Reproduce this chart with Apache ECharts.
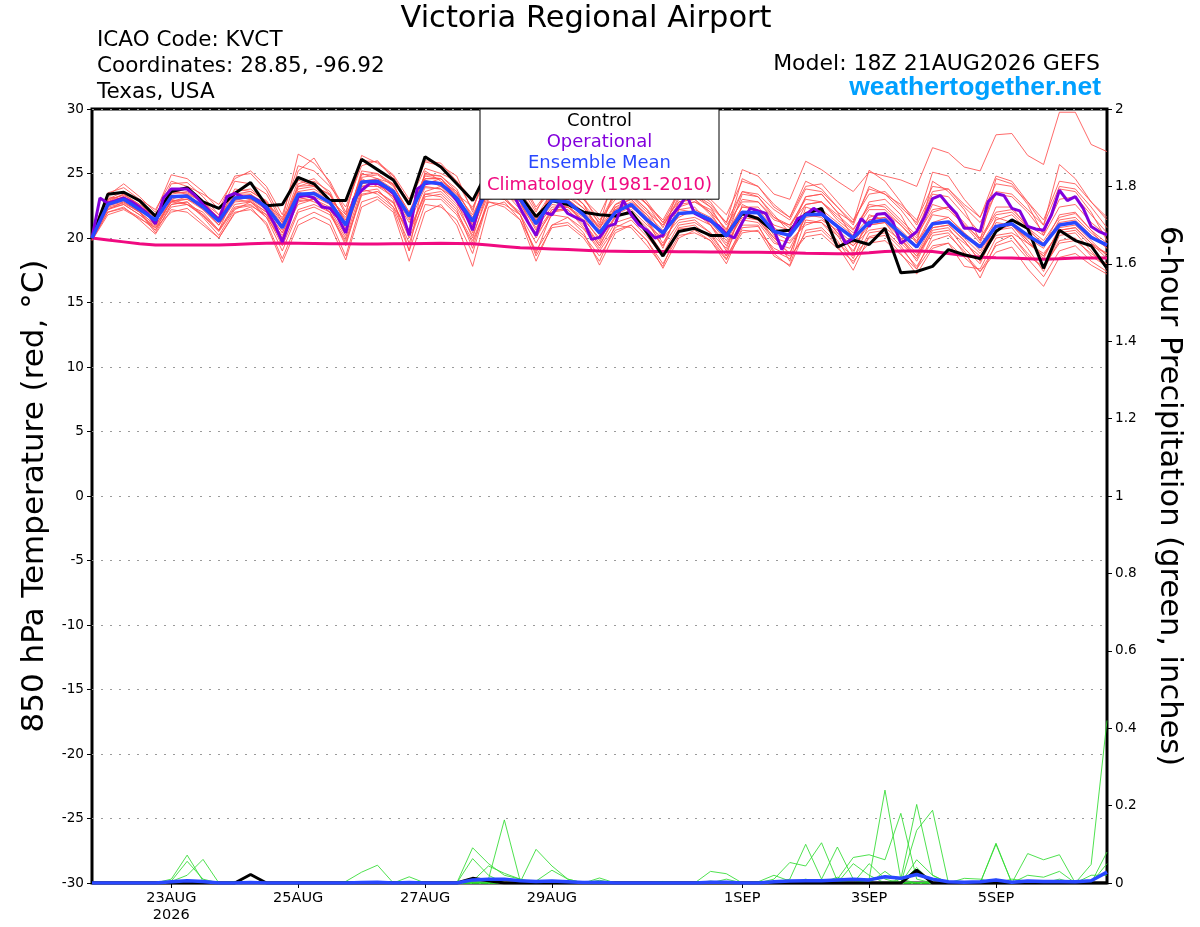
<!DOCTYPE html>
<html>
<head>
<meta charset="utf-8">
<script src="https://cdn.jsdelivr.net/npm/echarts@6/dist/echarts.min.js"></script>
<style>html,body{margin:0;padding:0;background:#fff}#chart{width:1200px;height:927px}</style>
</head>
<body>
<div id="chart"></div>
<script>
// ---------- data ----------
const stepHours = 6;      // ensemble / control / mean output step
const opStepHours = 3;    // operational output step
const xTickHours = [30, 78, 126, 174, 246, 294, 342];
const xTickLabels = ['23AUG\n2026', '25AUG', '27AUG', '29AUG', '1SEP', '3SEP', '5SEP'];
const tempTicks = [-30, 30, 5];
const precipTicks = [0, 2, 0.2];

const controlTemp = [20.0, 23.4, 23.55, 22.9, 21.7, 23.6, 23.9, 22.8, 22.3, 23.45,
  24.3, 22.5, 22.6, 24.7, 24.2, 22.9, 22.9, 26.1, 25.3, 24.5,
  22.6, 26.3, 25.5, 24.2, 22.9, 25.3, 24.8, 23.3, 21.65, 22.9,
  22.6, 22.0, 21.8, 21.7, 22.0, 20.4, 18.6, 20.5, 20.75, 20.2,
  20.2, 21.9, 21.5, 20.5, 20.6, 21.85, 22.3, 19.3, 19.85, 19.5,
  20.75, 17.3, 17.4, 17.8, 19.1, 18.7, 18.4, 20.5, 21.4, 20.75,
  17.65, 20.6, 19.8, 19.4, 17.65];

const meanTemp = [20.0, 22.6, 23.0, 22.2, 21.4, 23.2, 23.25, 22.4, 21.3, 23.1,
  23.2, 22.4, 20.8, 23.4, 23.45, 22.75, 21.0, 24.35, 24.4, 23.6,
  21.7, 24.35, 24.2, 23.1, 21.3, 24.0, 23.8, 23.0, 21.1, 22.9,
  22.8, 21.8, 20.4, 22.0, 22.6, 21.4, 20.4, 21.9, 22.0, 21.4,
  20.15, 22.0, 21.95, 20.5, 20.2, 21.8, 21.85, 20.9, 20.0, 21.2,
  21.4, 20.35, 19.3, 21.1, 21.25, 20.2, 19.3, 20.9, 21.1, 20.2,
  19.45, 21.0, 21.2, 20.05, 19.45];

const climTemp = [20.0, 19.85, 19.7, 19.55, 19.45, 19.45, 19.45, 19.45, 19.45, 19.5,
  19.55, 19.6, 19.62, 19.6, 19.58, 19.56, 19.55, 19.54, 19.54, 19.55,
  19.56, 19.58, 19.6, 19.58, 19.55, 19.45, 19.35, 19.25, 19.2, 19.15,
  19.1, 19.05, 19.0, 18.98, 18.96, 18.95, 18.95, 18.94, 18.93, 18.92,
  18.91, 18.9, 18.9, 18.88, 18.85, 18.82, 18.8, 18.78, 18.78, 18.85,
  18.95, 19.0, 19.0, 18.95, 18.8, 18.65, 18.5, 18.47, 18.45, 18.4,
  18.35, 18.4, 18.45, 18.45, 18.45];

const opTemp = [20.0, 23.1, 22.7, 22.9, 23.1, 22.8, 22.4, 21.9, 21.1, 23.1,
  23.8, 23.8, 23.8, 23.3, 22.6, 22.0, 21.4, 23.2, 23.45, 23.2,
  23.2, 22.9, 22.2, 21.1, 19.7, 21.4, 23.2, 23.3, 23.1, 22.4,
  22.3, 21.6, 20.4, 23.0, 23.7, 24.2, 24.25, 23.95, 23.45, 22.2,
  20.2, 23.8, 24.2, 24.3, 24.2, 23.7, 22.9, 22.0, 20.6, 22.9,
  23.6, 24.1, 24.0, 23.6, 22.3, 21.2, 20.2, 22.0, 21.8, 22.7,
  21.9, 21.6, 21.3, 19.9, 20.05, 20.9, 21.1, 22.9, 21.8, 21.0,
  20.6, 20.0, 20.2, 21.65, 22.4, 23.3, 21.9, 21.6, 21.3, 20.95,
  20.3, 20.0, 21.2, 22.3, 22.1, 21.9, 20.6, 19.1, 20.35, 21.5,
  21.8, 22.3, 21.9, 21.4, 20.9, 19.6, 20.0, 21.5, 20.9, 21.85,
  21.9, 21.25, 19.6, 20.0, 20.5, 21.65, 23.05, 23.3, 22.55, 21.9,
  20.75, 20.75, 20.5, 22.8, 23.45, 23.3, 22.3, 22.1, 20.9, 20.7,
  20.6, 21.8, 23.7, 22.9, 23.2, 22.3, 20.9, 20.5, 20.25];

// ensemble members, 850 hPa temperature (6-hourly)
const member1 = [20.1, 22.9, 23.4, 22.6, 21.6, 23.6, 23.5, 22.8, 21.5, 23.4, 23.6, 22.9, 21.2, 24.0, 24.1, 23.3, 21.4,
  24.9, 25.0, 24.1, 22.0, 24.9, 24.8, 23.6, 21.6, 24.6, 24.3, 23.5, 21.4, 23.3, 23.4, 22.3, 20.8,
  22.6, 23.3, 22.2, 21.0, 23.0, 23.4, 22.6, 21.2, 25.3, 24.8, 23.4, 23.0, 25.95, 25.3, 24.4, 23.6,
  25.1, 24.8, 24.5, 24.0, 27.0, 26.6, 25.5, 25.2, 28.0, 28.1, 26.4, 25.7, 29.75, 29.75, 27.25, 26.7];
const member2 = [19.9, 22.0, 22.3, 21.6, 20.6, 22.4, 22.6, 21.7, 20.5, 22.3, 22.5, 21.8, 19.4, 22.2, 22.6, 22.0, 19.6,
  23.3, 23.6, 22.7, 20.3, 23.4, 23.2, 22.0, 19.8, 22.8, 22.6, 21.8, 19.6, 21.8, 21.6, 20.7, 19.0,
  20.8, 21.4, 20.1, 18.6, 20.7, 20.8, 20.2, 18.6, 20.6, 20.5, 19.2, 18.6, 20.1, 20.3, 19.2, 18.2,
  19.6, 19.8, 18.7, 17.6, 19.4, 19.6, 18.5, 17.4, 18.9, 19.3, 17.6, 16.25, 18.5, 18.8, 17.9, 17.2];
const member3 = [20.2, 23.3, 24.2, 23.2, 22.0, 24.9, 24.6, 23.6, 22.2, 24.8, 25.0, 23.7, 21.4, 26.5, 25.8, 24.4, 22.0,
  26.0, 25.9, 24.9, 23.0, 25.9, 25.6, 24.8, 22.0, 26.0, 25.2, 24.0, 22.0, 24.5, 24.6, 23.2, 21.0,
  25.2, 24.3, 22.8, 21.2, 22.8, 23.0, 22.0, 20.7, 23.6, 23.2, 21.6, 21.0, 23.0, 22.8, 21.8, 20.7,
  22.4, 22.6, 21.4, 20.2, 22.2, 22.4, 21.2, 19.8, 21.8, 22.0, 20.8, 19.8, 21.6, 21.9, 20.6, 19.6];
const member4 = [19.8, 21.8, 22.2, 21.5, 20.8, 22.0, 22.3, 21.2, 20.0, 21.9, 22.4, 21.0, 18.1, 21.0, 21.6, 21.0, 18.3,
  22.4, 23.0, 22.0, 18.2, 22.0, 22.6, 21.0, 17.8, 22.4, 22.8, 21.4, 18.2, 21.0, 21.6, 20.4, 17.9,
  20.4, 21.0, 19.8, 17.65, 20.0, 20.6, 19.8, 18.0, 20.8, 20.9, 19.0, 18.4, 20.4, 20.6, 19.4, 17.5,
  20.1, 20.4, 19.2, 17.8, 19.8, 20.2, 19.0, 16.9, 19.6, 20.2, 18.8, 17.6, 19.8, 20.0, 18.6, 17.8];
const member5 = [20.0, 22.8, 23.4, 22.5, 21.2, 23.5, 23.8, 22.6, 21.6, 23.6, 23.8, 22.8, 21.0, 23.8, 24.0, 23.0, 21.6,
  24.7, 24.9, 24.0, 22.0, 24.6, 24.6, 23.4, 21.8, 24.3, 24.2, 23.3, 21.6, 23.6, 23.2, 22.3, 20.9,
  23.4, 23.2, 22.0, 21.0, 22.6, 22.8, 22.2, 20.6, 23.0, 22.8, 21.4, 21.0, 22.6, 22.8, 21.6, 20.6,
  22.6, 22.4, 21.2, 20.0, 22.6, 22.2, 21.0, 20.0, 22.0, 22.2, 21.0, 20.2, 22.4, 22.6, 21.2, 20.2];
const member6 = [20.0, 22.4, 22.7, 22.0, 21.0, 22.9, 23.0, 22.2, 21.0, 22.8, 22.9, 22.0, 20.4, 22.9, 23.0, 22.4, 20.6,
  24.0, 24.0, 23.2, 21.2, 23.9, 23.8, 22.6, 20.8, 23.6, 23.4, 22.6, 20.8, 22.4, 22.4, 21.4, 20.0,
  21.6, 22.2, 21.0, 20.0, 21.4, 21.6, 21.0, 19.6, 21.6, 21.4, 20.0, 19.6, 21.2, 21.2, 20.2, 19.4,
  20.6, 20.8, 19.8, 18.6, 20.4, 20.6, 19.6, 18.6, 20.2, 20.4, 19.6, 18.8, 20.4, 20.6, 19.4, 18.8];
const member7 = [20.1, 22.5, 23.0, 22.4, 21.8, 23.2, 23.1, 22.6, 21.4, 23.2, 23.0, 22.4, 21.0, 24.5, 24.0, 23.4, 21.2,
  24.2, 24.4, 23.4, 21.4, 24.5, 24.0, 23.2, 21.4, 23.5, 23.6, 22.8, 20.6, 24.0, 23.8, 22.6, 20.6,
  23.8, 23.4, 22.2, 20.2, 24.0, 23.4, 22.4, 20.4, 24.6, 24.0, 22.6, 21.6, 24.4, 23.8, 22.4, 21.0,
  24.0, 23.4, 22.2, 20.6, 23.4, 23.2, 21.8, 20.4, 23.6, 23.4, 22.2, 21.0, 25.7, 24.6, 22.8, 21.4];
const member8 = [19.9, 22.2, 22.6, 21.8, 20.8, 22.6, 22.8, 21.8, 20.6, 22.4, 22.6, 21.6, 19.0, 22.0, 22.4, 21.8, 19.8,
  23.4, 23.6, 22.8, 20.0, 23.0, 23.0, 21.8, 19.6, 22.8, 22.4, 21.4, 19.0, 21.0, 21.2, 20.2, 18.6,
  20.6, 21.0, 19.8, 18.0, 20.2, 20.4, 19.8, 18.3, 21.0, 21.0, 18.8, 17.8, 20.6, 20.8, 19.6, 18.6,
  20.0, 20.2, 18.8, 17.2, 19.2, 19.6, 17.8, 17.6, 20.0, 20.2, 18.6, 17.8, 19.6, 19.8, 18.8, 18.0];
const member9 = [20.0, 23.0, 23.6, 22.8, 21.6, 24.2, 24.3, 23.2, 21.8, 24.4, 24.2, 23.4, 21.2, 25.2, 26.2, 24.2, 21.8,
  26.4, 25.8, 24.8, 22.6, 26.0, 25.8, 24.4, 22.2, 25.8, 25.4, 24.4, 22.2, 23.8, 24.4, 23.0, 21.4,
  23.0, 23.8, 22.6, 20.8, 23.2, 23.6, 22.8, 21.0, 22.8, 22.8, 21.6, 20.8, 23.2, 23.4, 22.0, 21.2,
  25.25, 24.4, 22.8, 21.0, 23.6, 23.8, 22.4, 21.2, 23.4, 23.2, 22.0, 20.4, 23.0, 23.2, 21.8, 20.4];
const member10 = [20.2, 22.6, 22.9, 22.2, 21.3, 22.8, 23.0, 22.4, 21.2, 22.9, 23.2, 22.2, 20.4, 23.0, 23.2, 22.6, 20.4,
  24.6, 24.0, 23.6, 21.8, 24.0, 23.8, 23.0, 21.0, 24.0, 23.6, 22.8, 21.0, 22.6, 22.4, 21.6, 19.8,
  22.4, 22.4, 21.4, 19.6, 21.8, 22.0, 21.2, 19.8, 21.8, 21.6, 20.4, 19.8, 21.0, 21.4, 20.6, 19.6,
  21.4, 21.6, 20.6, 19.4, 21.8, 21.6, 20.4, 19.0, 20.8, 21.0, 20.0, 19.2, 21.4, 21.6, 20.4, 19.4];
const member11 = [19.9, 23.2, 23.0, 22.0, 20.6, 23.0, 22.6, 22.0, 20.6, 23.4, 23.0, 22.2, 20.0, 23.6, 23.0, 22.2, 20.8,
  24.0, 24.4, 23.0, 19.0, 25.2, 24.4, 23.6, 20.4, 24.4, 24.0, 22.8, 20.0, 22.2, 22.6, 21.2, 19.4,
  21.8, 22.4, 21.4, 19.2, 22.2, 22.4, 21.0, 19.0, 21.4, 21.2, 19.6, 19.2, 21.6, 21.8, 20.4, 19.4,
  21.0, 21.2, 20.0, 18.6, 20.8, 21.0, 19.8, 18.2, 21.2, 21.0, 19.6, 18.6, 20.6, 20.8, 19.6, 18.4];
const member12 = [20.0, 22.6, 23.2, 22.4, 21.6, 23.0, 23.4, 22.8, 21.8, 23.0, 23.4, 22.6, 21.6, 23.2, 23.6, 23.0, 21.8,
  24.2, 24.6, 24.2, 22.8, 24.2, 24.6, 23.4, 22.4, 24.8, 24.4, 23.6, 21.8, 22.8, 23.0, 22.0, 20.8,
  22.2, 22.8, 21.8, 20.6, 21.6, 22.2, 21.6, 20.4, 22.4, 22.4, 21.0, 20.6, 22.0, 22.2, 21.2, 20.2,
  21.6, 22.0, 21.0, 19.8, 21.2, 21.6, 20.4, 19.4, 21.4, 21.8, 20.6, 19.6, 21.2, 21.4, 20.2, 19.2];
const member13 = [20.0, 22.2, 22.8, 22.0, 20.4, 22.6, 22.8, 21.6, 20.2, 22.2, 22.8, 21.8, 20.2, 22.6, 23.0, 22.0, 19.4,
  23.6, 23.8, 22.4, 19.6, 23.2, 23.4, 22.2, 19.2, 23.2, 23.0, 21.8, 18.8, 22.0, 22.2, 20.8, 19.2,
  21.2, 21.6, 20.6, 18.8, 21.0, 21.2, 20.4, 18.6, 22.6, 22.0, 20.2, 18.2, 22.4, 22.0, 20.8, 18.8,
  21.8, 21.4, 20.0, 18.2, 20.6, 20.8, 19.2, 18.0, 20.6, 20.8, 19.2, 17.4, 20.2, 20.4, 19.0, 17.6];
const member14 = [20.1, 23.0, 23.3, 22.6, 21.8, 23.4, 23.6, 22.8, 21.4, 23.8, 23.6, 22.8, 20.8, 24.0, 24.4, 23.6, 21.0,
  25.2, 25.0, 24.2, 21.6, 25.0, 24.8, 23.8, 21.4, 25.0, 24.6, 23.4, 21.2, 23.2, 23.6, 22.6, 20.2,
  22.4, 23.0, 21.8, 20.0, 22.4, 22.8, 22.0, 20.0, 23.4, 23.2, 21.8, 20.4, 23.2, 23.4, 22.0, 20.0,
  22.8, 23.0, 21.8, 19.6, 24.4, 23.6, 22.2, 19.8, 24.6, 24.2, 22.6, 20.2, 23.8, 23.6, 22.0, 19.8];
const member15 = [20.3, 23.5, 23.9, 23.0, 22.2, 24.4, 24.0, 23.4, 22.6, 24.6, 25.2, 24.0, 21.8, 25.6, 25.2, 24.0, 22.4,
  25.6, 26.0, 24.6, 22.8, 25.4, 25.0, 24.4, 23.0, 25.4, 25.6, 24.6, 22.4, 24.0, 24.2, 23.0, 21.8,
  24.4, 24.0, 22.6, 21.4, 23.6, 23.8, 23.0, 21.8, 24.4, 24.0, 22.4, 21.6, 24.0, 24.2, 22.8, 21.4,
  23.4, 23.6, 22.4, 21.2, 25.1, 24.8, 23.0, 21.6, 24.8, 24.4, 22.8, 21.0, 24.0, 23.8, 22.4, 20.8];
const member16 = [19.8, 22.0, 22.4, 21.4, 20.3, 22.2, 22.0, 21.0, 20.0, 22.0, 22.2, 21.2, 18.4, 21.4, 22.0, 21.4, 18.6,
  22.8, 23.2, 22.2, 19.0, 22.6, 22.4, 21.4, 18.8, 23.0, 23.2, 21.8, 18.6, 20.8, 21.0, 20.0, 18.2,
  21.0, 20.8, 19.4, 17.8, 20.8, 21.0, 20.0, 18.4, 20.4, 20.6, 18.6, 17.9, 21.4, 21.2, 19.8, 18.0,
  20.4, 20.6, 19.4, 17.6, 20.2, 20.4, 18.8, 17.4, 19.4, 19.8, 18.4, 17.0, 19.0, 19.4, 18.2, 17.4];
const member17 = [20.0, 22.7, 23.0, 22.3, 21.2, 23.6, 23.4, 22.4, 21.0, 23.4, 23.4, 22.4, 20.6, 24.2, 24.6, 23.4, 21.2,
  25.0, 24.6, 23.8, 21.6, 24.8, 24.6, 23.2, 21.0, 24.2, 23.8, 23.0, 21.2, 23.2, 23.0, 22.0, 20.4,
  22.6, 23.0, 21.6, 20.2, 22.8, 23.0, 21.8, 20.2, 22.4, 22.2, 20.8, 20.0, 22.6, 22.8, 21.4, 20.4,
  22.2, 22.2, 21.0, 19.6, 22.0, 22.4, 21.0, 19.6, 22.4, 22.4, 20.8, 19.4, 21.8, 22.0, 20.6, 19.2];
const member18 = [20.0, 22.3, 22.6, 21.8, 20.9, 22.8, 22.6, 21.8, 20.6, 22.6, 22.8, 21.6, 19.8, 22.8, 23.0, 22.0, 20.0,
  23.8, 23.4, 22.4, 20.6, 23.4, 23.6, 22.4, 20.2, 23.4, 23.0, 22.0, 20.4, 22.2, 22.2, 21.0, 19.4,
  21.6, 22.0, 20.8, 19.4, 21.2, 21.4, 20.4, 19.2, 22.0, 21.6, 20.0, 18.8, 21.8, 21.6, 20.2, 18.4,
  21.0, 21.2, 19.6, 18.4, 20.8, 21.0, 19.8, 18.2, 21.6, 21.2, 19.8, 18.4, 20.8, 21.0, 19.8, 18.6];
const member19 = [20.1, 22.8, 23.2, 22.4, 21.2, 23.2, 23.2, 22.6, 21.2, 23.2, 23.0, 22.6, 20.8, 23.6, 23.8, 23.0, 21.0,
  24.4, 24.6, 23.6, 21.6, 24.6, 24.6, 23.2, 21.2, 24.0, 24.0, 23.0, 21.4, 23.4, 23.8, 22.6, 21.2,
  23.6, 23.6, 22.6, 21.2, 23.4, 23.2, 22.4, 21.2, 23.6, 23.4, 22.2, 21.4, 23.8, 23.6, 22.4, 21.2,
  23.8, 23.4, 22.6, 21.4, 24.0, 23.8, 22.6, 21.6, 24.2, 24.0, 22.8, 21.4, 24.4, 24.2, 22.8, 21.6];
const member20 = [19.9, 22.5, 22.8, 22.0, 21.0, 22.8, 23.2, 22.2, 21.0, 23.0, 22.8, 22.0, 19.6, 23.2, 22.8, 22.2, 20.2,
  24.4, 24.2, 23.2, 20.4, 23.6, 24.0, 22.8, 20.0, 23.8, 23.6, 22.2, 20.2, 22.0, 22.4, 21.2, 19.6,
  22.2, 22.6, 21.2, 19.4, 22.2, 22.0, 21.0, 19.4, 21.8, 21.4, 19.8, 18.8, 21.8, 21.8, 20.4, 19.0,
  21.4, 21.6, 20.2, 18.8, 21.0, 21.2, 20.0, 18.8, 20.6, 21.0, 19.8, 18.6, 20.6, 20.8, 19.6, 18.8];

// 6-hour precipitation (inches), control and ensemble mean (6-hourly)
const controlPrecip = [0, 0, 0, 0, 0, 0, 0, 0, 0, 0, 0.022, 0, 0, 0, 0, 0, 0, 0, 0, 0, 0, 0, 0, 0, 0.012,
  0.006, 0, 0, 0, 0, 0, 0, 0, 0, 0, 0, 0, 0, 0, 0, 0, 0, 0, 0, 0, 0, 0, 0, 0, 0,
  0, 0, 0.033, 0, 0, 0, 0, 0, 0, 0, 0, 0, 0, 0, 0];
const meanPrecip = [0, 0, 0, 0, 0, 0.003, 0.006, 0.004, 0, 0, 0.001, 0, 0, 0, 0, 0, 0, 0.001, 0.002, 0,
  0.001, 0, 0, 0, 0.008, 0.01, 0.01, 0.006, 0.004, 0.005, 0.003, 0.001, 0.002, 0, 0, 0, 0, 0, 0, 0.002,
  0.002, 0, 0, 0.003, 0.005, 0.006, 0.006, 0.008, 0.01, 0.008, 0.016, 0.012, 0.022, 0.01, 0.003,
  0.002, 0.003, 0.008, 0.002, 0.005, 0.004, 0.004, 0.003, 0.006, 0.028];
// ensemble member precipitation: [step index, inches]; all other steps are 0
const precip1 = [[5, 0.01], [6, 0.072], [7, 0.005]];
const precip2 = [[5, 0.005], [6, 0.056], [7, 0.01], [24, 0.005], [25, 0.044], [26, 0.025], [27, 0.01]];
const precip3 = [[5, 0.004], [6, 0.02], [7, 0.061], [39, 0.03], [40, 0.024]];
const precip4 = [[16, 0.004], [17, 0.028], [18, 0.046], [43, 0.01], [44, 0.053], [45, 0.044], [46, 0.104], [47, 0.005]];
const precip5 = [[20, 0.016], [24, 0.091], [25, 0.05], [26, 0.02], [27, 0.01], [44, 0.01], [45, 0.1], [46, 0.01], [47, 0.093], [48, 0.01]];
const precip6 = [[24, 0.063], [25, 0.02], [47, 0.01], [48, 0.066], [49, 0.073], [50, 0.06], [51, 0.18], [52, 0.01]];
const precip7 = [[25, 0.01], [26, 0.163], [27, 0.005], [49, 0.01], [50, 0.24], [51, 0.01], [57, 0.103]];
const precip8 = [[27, 0.002], [28, 0.087], [29, 0.044], [30, 0.01], [51, 0.01], [52, 0.203], [53, 0.02], [59, 0.076], [60, 0.06], [61, 0.073]];
const precip9 = [[28, 0.005], [29, 0.033], [30, 0.01], [32, 0.013], [52, 0.136], [53, 0.188], [57, 0.1], [63, 0.048], [64, 0.42]];
const precip10 = [[32, 0.007], [39, 0.005], [48, 0.05], [49, 0.02], [52, 0.06], [53, 0.02], [59, 0.02], [60, 0.015], [61, 0.03], [64, 0.08]];
const precip11 = [[36, 0.004], [42, 0.003], [43, 0.02], [44, 0.005], [50, 0.03], [52, 0.04], [55, 0.012], [56, 0.01], [58, 0.01], [59, 0.005], [64, 0.05]];
const precip12 = [[9, 0.004], [22, 0.003], [31, 0.004], [40, 0.01], [45, 0.01], [47, 0.015], [49, 0.05], [50, 0.01], [57, 0.01], [61, 0.01], [63, 0.02], [64, 0.02]];

// ---------- build ----------
const FONT = '"DejaVu Sans", Verdana, sans-serif';
const RED = '#ff4f4f', GREEN = '#2fdc2f', OP = '#8200dc', MEAN = '#2847ff', CLIM = '#f00a80';
const tempMembers = [member1, member2, member3, member4, member5, member6, member7, member8, member9, member10,
  member11, member12, member13, member14, member15, member16, member17, member18, member19, member20];
const precipMembers = [precip1, precip2, precip3, precip4, precip5, precip6, precip7, precip8, precip9, precip10, precip11, precip12];
const nSteps = controlTemp.length;

const at6 = arr => arr.map((v, i) => [i * stepHours, v]);
const at3 = arr => arr.map((v, i) => [i * opStepHours, v]);
const fromPairs = pairs => {
  const vals = controlTemp.map(() => 0);
  pairs.forEach(([i, v]) => { vals[i] = v; });
  return at6(vals);
};
const labelOf = v => { const k = xTickHours.indexOf(v); return k >= 0 ? xTickLabels[k] : ''; };

const series = [];
tempMembers.forEach((m, k) => series.push({
  name: 'member' + (k + 1), type: 'line', data: at6(m), yAxisIndex: 0,
  showSymbol: false, silent: true, lineStyle: { color: RED, width: 0.85 }, z: 2
}));
precipMembers.forEach((m, k) => series.push({
  name: 'precip member' + (k + 1), type: 'line', data: fromPairs(m), yAxisIndex: 1,
  showSymbol: false, silent: true, lineStyle: { color: GREEN, width: 0.85 }, z: 2
}));
series.push({ name: 'Climatology (1981-2010)', type: 'line', data: at6(climTemp), yAxisIndex: 0, showSymbol: false, lineStyle: { color: CLIM, width: 3 }, itemStyle: { color: CLIM }, z: 3 });
series.push({ name: 'Control', type: 'line', data: at6(controlTemp), yAxisIndex: 0, showSymbol: false, lineStyle: { color: '#000', width: 3 }, itemStyle: { color: '#000' }, z: 4 });
series.push({ name: 'Operational', type: 'line', data: at3(opTemp), yAxisIndex: 0, showSymbol: false, lineStyle: { color: OP, width: 3 }, itemStyle: { color: OP }, z: 5 });
series.push({ name: 'Ensemble Mean', type: 'line', data: at6(meanTemp), yAxisIndex: 0, showSymbol: false, lineStyle: { color: MEAN, width: 3.5 }, itemStyle: { color: MEAN }, z: 6 });
series.push({ name: 'Control precip', type: 'line', data: at6(controlPrecip), yAxisIndex: 1, showSymbol: false, lineStyle: { color: '#000', width: 3 }, z: 4 });
series.push({ name: 'Ensemble Mean precip', type: 'line', data: at6(meanPrecip), yAxisIndex: 1, showSymbol: false, lineStyle: { color: MEAN, width: 3.5 }, z: 6 });

const legendKeys = { 'Control': 'ctl', 'Operational': 'op', 'Ensemble Mean': 'mean', 'Climatology (1981-2010)': 'clim' };
const richBase = { width: 229, align: 'center', fontSize: 18, lineHeight: 18, fontFamily: FONT };

const option = {
  animation: false,
  backgroundColor: '#fff',
  textStyle: { fontFamily: FONT },
  grid: { left: 92, top: 109, width: 1015, height: 774, show: true, borderColor: '#000', borderWidth: 3, backgroundColor: 'rgba(0,0,0,0)', containLabel: false },
  xAxis: {
    type: 'value', min: 0, max: nSteps * stepHours - stepHours,
    axisLine: { show: false, onZero: false }, splitLine: { show: false },
    axisTick: { show: true, customValues: xTickHours, length: 5, lineStyle: { color: '#000', width: 1 } },
    axisLabel: { customValues: xTickHours, formatter: labelOf, fontSize: 14.5, lineHeight: 17, color: '#000', margin: 7, fontFamily: FONT }
  },
  yAxis: [
    {
      type: 'value', min: tempTicks[0], max: tempTicks[1], interval: tempTicks[2], position: 'left',
      name: '850 hPa Temperature (red, °C)', nameLocation: 'middle', nameGap: 42, nameRotate: 90,
      nameTextStyle: { fontSize: 31, color: '#000', fontFamily: FONT },
      axisLine: { show: false },
      axisTick: { show: true, length: 5, lineStyle: { color: '#000', width: 1 } },
      axisLabel: { fontSize: 13.6, color: '#000', margin: 8, fontFamily: FONT },
      splitLine: { show: true, lineStyle: { color: '#9a9a9a', type: [2, 7], width: 1 } }
    },
    {
      type: 'value', min: precipTicks[0], max: precipTicks[1], interval: precipTicks[2], position: 'right',
      name: '6-hour Precipitation (green, inches)', nameLocation: 'middle', nameGap: 46, nameRotate: -90,
      nameTextStyle: { fontSize: 30.5, color: '#000', fontFamily: FONT },
      axisLine: { show: false },
      axisTick: { show: true, length: 5, lineStyle: { color: '#000', width: 1 } },
      axisLabel: { fontSize: 13.6, color: '#000', margin: 8, fontFamily: FONT },
      splitLine: { show: false }
    }
  ],
  legend: {
    orient: 'vertical', left: 480, top: 109, itemGap: 3.4, itemWidth: 0, itemHeight: 0, icon: 'none',
    selectedMode: false, backgroundColor: '#fff', borderColor: '#000', borderWidth: 1,
    padding: [3, 5, 5, 0], z: 20,
    data: ['Control', 'Operational', 'Ensemble Mean', 'Climatology (1981-2010)'],
    formatter: n => '{' + legendKeys[n] + '|' + n + '}',
    textStyle: {
      fontFamily: FONT, fontSize: 18,
      rich: {
        ctl: Object.assign({ color: '#000' }, richBase),
        op: Object.assign({ color: OP }, richBase),
        mean: Object.assign({ color: MEAN }, richBase),
        clim: Object.assign({ color: CLIM }, richBase)
      }
    }
  },
  graphic: [
    { type: 'text', x: 586, y: 19, style: { text: 'Victoria Regional Airport', font: '30.5px ' + FONT, fill: '#000', textAlign: 'center', textVerticalAlign: 'middle', align: 'center', verticalAlign: 'middle' } },
    { type: 'text', x: 97, y: 40, style: { text: 'ICAO Code: KVCT', font: '21.5px ' + FONT, fill: '#000', textAlign: 'left', textVerticalAlign: 'middle', align: 'left', verticalAlign: 'middle' } },
    { type: 'text', x: 97, y: 66, style: { text: 'Coordinates: 28.85, -96.92', font: '21.5px ' + FONT, fill: '#000', textAlign: 'left', textVerticalAlign: 'middle', align: 'left', verticalAlign: 'middle' } },
    { type: 'text', x: 97, y: 92, style: { text: 'Texas, USA', font: '21.5px ' + FONT, fill: '#000', textAlign: 'left', textVerticalAlign: 'middle', align: 'left', verticalAlign: 'middle' } },
    { type: 'text', x: 1100, y: 64, style: { text: 'Model: 18Z 21AUG2026 GEFS', font: '22px ' + FONT, fill: '#000', textAlign: 'right', textVerticalAlign: 'middle', align: 'right', verticalAlign: 'middle' } },
    { type: 'text', x: 1101, y: 88, style: { text: 'weathertogether.net', font: 'bold 26.5px "Liberation Sans", Arial, sans-serif', fill: '#00a0ff', textAlign: 'right', textVerticalAlign: 'middle', align: 'right', verticalAlign: 'middle' } }
  ],
  series: series
};

const chart = echarts.init(document.getElementById('chart'), null, { renderer: 'canvas' });
chart.setOption(option);
</script>
</body>
</html>
